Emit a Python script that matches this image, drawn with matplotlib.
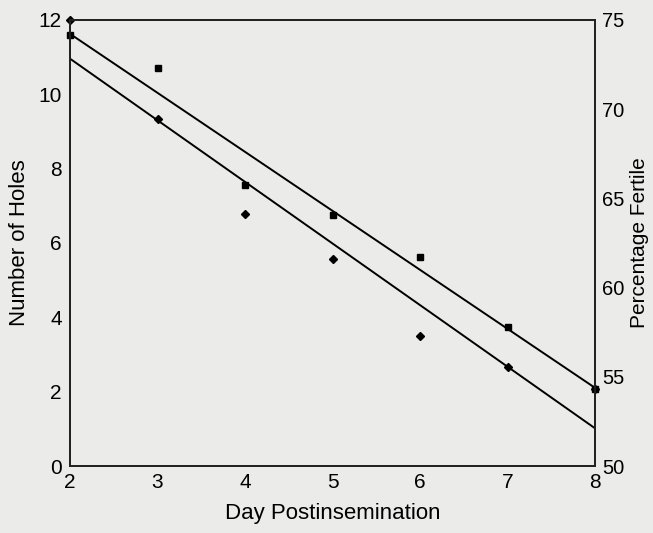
import numpy as np
import matplotlib.pyplot as plt

plt.rcParams["font.family"] = ["Liberation Sans", "DejaVu Sans"]

# data
days = [2, 3, 4, 5, 6, 7, 8]
holes = [12.0, 9.33, 6.78, 5.57, 3.5, 2.66, 2.07]
fertile = [74.16, 72.31, 65.75, 64.07, 61.72, 57.79, 54.32]

x_ticks = [2, 3, 4, 5, 6, 7, 8]
left_ticks = [0, 2, 4, 6, 8, 10, 12]
right_ticks = [50, 55, 60, 65, 70, 75]

paper = "#ebebe9"

fig = plt.figure(figsize=(6.53, 5.33), dpi=100, facecolor=paper)
ax = fig.add_axes([0.1072, 0.1257, 0.8040, 0.8368])
ax.set_facecolor(paper)
ax2 = ax.twinx()

xs = np.array([days[0], days[-1]])

# holes: diamonds with fitted line
fit_h = np.polyfit(days, holes, 1)
ax.plot(xs, np.polyval(fit_h, xs), color="black", lw=1.4)
ax.plot(days, holes, linestyle="none", marker="D", markersize=4.5,
        color="black", clip_on=False)

# percentage fertile: squares with fitted line
fit_f = np.polyfit(days, fertile, 1)
ax2.plot(xs, np.polyval(fit_f, xs), color="black", lw=1.4)
ax2.plot(days, fertile, linestyle="none", marker="s", markersize=5,
         color="black", clip_on=False)

ax.set_xlim(2, 8)
ax.set_ylim(0, 12)
ax2.set_ylim(50, 75)

ax.set_xticks(x_ticks)
ax.set_yticks(left_ticks)
ax2.set_yticks(right_ticks)

ax.tick_params(axis="x", length=0, labelsize=15, pad=5)
ax.tick_params(axis="y", length=0, labelsize=15, pad=6)
ax2.tick_params(length=0, labelsize=14.5, pad=5)

for a in (ax, ax2):
    for s in a.spines.values():
        s.set_linewidth(1.3)
        s.set_color("#222222")

ax.set_xlabel("Day Postinsemination", fontsize=16, labelpad=8)
ax.set_ylabel("Number of Holes", fontsize=16, labelpad=6)
ax2.set_ylabel("Percentage Fertile", fontsize=15, labelpad=4, rotation=90)

fig.savefig("out.png", dpi=100, facecolor=paper)
